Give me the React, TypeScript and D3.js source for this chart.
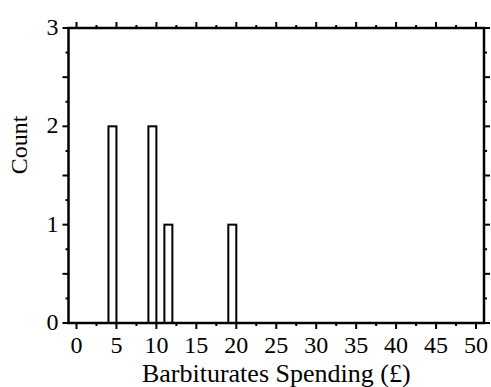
import * as React from 'react';
import * as d3 from 'd3';

// histogram bins (left edge, width 1) and counts
const binStarts: number[] = [4, 9, 11, 19];
const binCounts: number[] = [2, 2, 1, 1];
const xTickValues: number[] = [0, 5, 10, 15, 20, 25, 30, 35, 40, 45, 50];
const yTickValues: number[] = [0, 1, 2, 3];
const xLabel = 'Barbiturates Spending (£)';
const yLabel = 'Count';

const W = 491, H = 387;
const margin = { left: 68.5, right: 7, top: 28, bottom: 64 };

const App: React.FC = () => {
  const ref = React.useRef<SVGSVGElement>(null);

  React.useEffect(() => {
    const svg = d3.select(ref.current);
    svg.selectAll('*').remove();

    const x = d3.scaleLinear().domain([-1, 51]).range([margin.left, W - margin.right]);
    const y = d3.scaleLinear().domain([0, 3]).range([H - margin.bottom, margin.top]);
    const font = "'Liberation Serif', 'Times New Roman', serif";

    // bars
    svg.append('g')
      .selectAll('rect')
      .data(binStarts.map((s, i) => ({ s, c: binCounts[i] })))
      .enter()
      .append('rect')
      .attr('x', d => x(d.s))
      .attr('y', d => y(d.c))
      .attr('width', d => x(d.s + 1) - x(d.s))
      .attr('height', d => y(0) - y(d.c))
      .attr('fill', '#fff')
      .attr('stroke', '#000')
      .attr('stroke-width', 2);

    const x0 = x.range()[0], x1 = x.range()[1];
    const yb = y(0), yt = y(3);

    // minor/major ticks
    const xMinor = d3.range(2.5, 51, 5);
    const yMinor = d3.range(0.25, 3, 0.25).filter(v => Math.abs(v - Math.round(v)) > 0.01);
    const ticks = svg.append('g').attr('stroke', '#000').attr('stroke-width', 2);
    xTickValues.forEach(v => {
      ticks.append('line').attr('x1', x(v)).attr('x2', x(v)).attr('y1', yb).attr('y2', yb + 6);
      ticks.append('line').attr('x1', x(v)).attr('x2', x(v)).attr('y1', yt).attr('y2', yt - 6);
    });
    xMinor.forEach(v => {
      ticks.append('line').attr('x1', x(v)).attr('x2', x(v)).attr('y1', yb).attr('y2', yb + 3);
      ticks.append('line').attr('x1', x(v)).attr('x2', x(v)).attr('y1', yt).attr('y2', yt - 3);
    });
    yTickValues.forEach(v => {
      ticks.append('line').attr('x1', x0).attr('x2', x0 - 6).attr('y1', y(v)).attr('y2', y(v));
      ticks.append('line').attr('x1', x1).attr('x2', x1 + 6).attr('y1', y(v)).attr('y2', y(v));
    });
    yMinor.forEach(v => {
      const len = Math.abs(v % 1 - 0.5) < 0.01 ? 6 : 3;
      ticks.append('line').attr('x1', x0).attr('x2', x0 - len).attr('y1', y(v)).attr('y2', y(v));
      ticks.append('line').attr('x1', x1).attr('x2', x1 + len).attr('y1', y(v)).attr('y2', y(v));
    });

    // frame
    svg.append('rect')
      .attr('x', x0).attr('y', yt)
      .attr('width', x1 - x0).attr('height', yb - yt)
      .attr('fill', 'none').attr('stroke', '#000').attr('stroke-width', 2.5);

    // tick labels
    svg.append('g')
      .selectAll('text')
      .data(xTickValues)
      .enter()
      .append('text')
      .attr('x', d => x(d))
      .attr('y', 353)
      .attr('text-anchor', 'middle')
      .attr('font-family', font)
      .attr('font-size', 24)
      .text(d => `${d}`);

    svg.append('g')
      .selectAll('text')
      .data(yTickValues)
      .enter()
      .append('text')
      .attr('x', x0 - 10)
      .attr('y', d => y(d) + 7)
      .attr('text-anchor', 'end')
      .attr('font-family', font)
      .attr('font-size', 24)
      .text(d => `${d}`);

    // axis labels
    svg.append('text')
      .attr('x', (x0 + x1) / 2)
      .attr('y', 382)
      .attr('text-anchor', 'middle')
      .attr('font-family', font)
      .attr('font-size', 26)
      .text(xLabel);

    svg.append('text')
      .attr('transform', `translate(27, 145) rotate(-90)`)
      .attr('text-anchor', 'middle')
      .attr('font-family', font)
      .attr('font-size', 24)
      .text(yLabel);
  }, []);

  return (
    <svg ref={ref} width={W} height={H}
      style={{ position: 'absolute', left: 0, top: 0, background: '#fff' }} />
  );
};

export default App;
